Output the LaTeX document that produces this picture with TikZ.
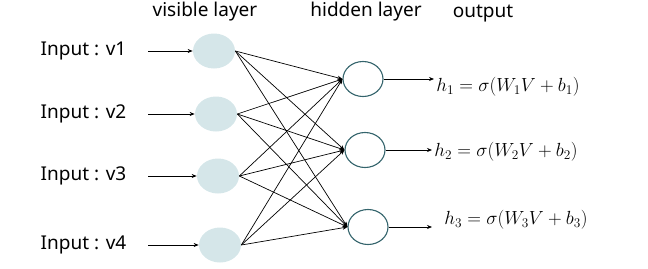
\documentclass[tikz,border=0pt]{standalone}
\usepackage{fix-cm}
\usepackage{fontspec}
\setmainfont{Noto Sans}
\usetikzlibrary{shapes.geometric,arrows.meta}
\definecolor{visfill}{RGB}{213,230,233}
\definecolor{hidline}{RGB}{52,100,108}
\tikzset{
  >={Stealth[length=5pt,width=4pt]},
  visible/.style={ellipse, fill=visfill, inner sep=0pt, minimum width=42pt, minimum height=35pt},
  hidden/.style={ellipse, draw=hidline, line width=1.1pt, fill=white, inner sep=0pt, minimum width=40pt, minimum height=35pt},
  lbl/.style={font=\fontsize{19}{22}\selectfont},
  formula/.style={anchor=west, inner sep=2pt, font=\fontsize{19}{22}\selectfont},
}

\begin{document}
\begin{tikzpicture}[x=1pt, y=-1pt, line width=0.7pt]
    \useasboundingbox (0,0) rectangle (648,268);
    % layer titles
    \node[lbl] (tvis) at (205,12) {visible layer};
    \node[lbl] (thid) at (366,12) {hidden layer};
    \node[lbl] (tout) at (483,14) {output};
    % visible units
    \node[visible] (v1) at (214,51)  {};
    \node[visible] (v2) at (216,114) {};
    \node[visible] (v3) at (218,176) {};
    \node[visible] (v4) at (220,245) {};
    % hidden units
    \node[hidden] (h1) at (363,79)  {};
    \node[hidden] (h2) at (365,150) {};
    \node[hidden] (h3) at (368,227) {};
    % inputs
    \foreach \i/\y in {1/51, 2/114, 3/176, 4/245} {
      \node[lbl, anchor=west] (in\i) at (37,\y) {Input : v\i};
      \coordinate (s\i) at (148,\y);
      \draw[->] (s\i) -- (v\i.west);
    }
    % outputs
    \node[formula] (o1) at (434,87)  {$h_1 = \sigma(W_1V + b_1)$};
    \node[formula] (o2) at (432,152) {$h_2 = \sigma(W_2V + b_2)$};
    \node[formula] (o3) at (442,220) {$h_3 = \sigma(W_3V + b_3)$};
    \draw[->] (h1.east) -- (h1 -| o1.west);
    \draw[->] (h2.east) -- (h2 -| o2.west);
    \draw[->] (h3.east) -- ([xshift=-10pt]h3 -| o3.west);
    % full connections
    \foreach \i in {1,...,4}
      \foreach \j in {1,2,3}
        \draw[->] (v\i.east) -- (h\j.west);
\end{tikzpicture}
\end{document}
